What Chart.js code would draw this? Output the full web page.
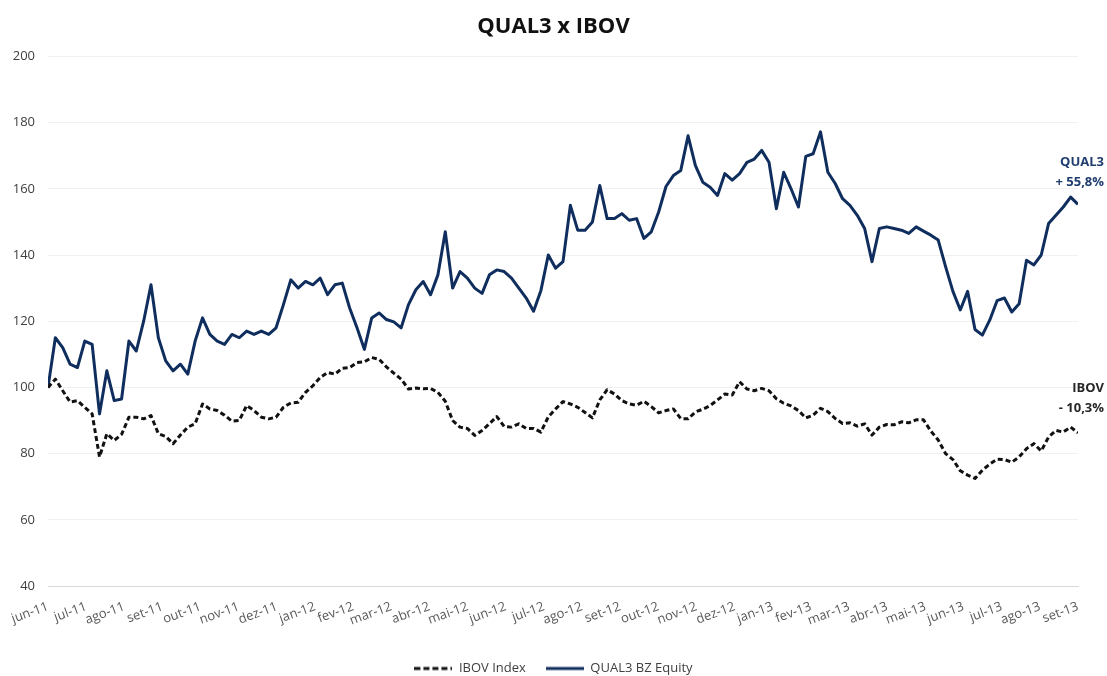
<!DOCTYPE html>
<html lang="pt-BR">
<head>
<meta charset="utf-8">
<title>QUAL3 x IBOV</title>
<script src="https://cdn.jsdelivr.net/npm/chart.js@4.4.1/dist/chart.umd.min.js"></script>
<style>
  html, body { margin: 0; padding: 0; background: #fff; }
</style>
</head>
<body>
<canvas id="chart" width="1107" height="676"></canvas>
<script>
// QUAL3 x IBOV - base 100, jun-11 a set-13

/* ---------- 1. DATA ---------- */
const MONTHS = [
  'jun-11','jul-11','ago-11','set-11','out-11','nov-11','dez-11',
  'jan-12','fev-12','mar-12','abr-12','mai-12','jun-12','jul-12','ago-12','set-12','out-12','nov-12','dez-12',
  'jan-13','fev-13','mar-13','abr-13','mai-13','jun-13','jul-13','ago-13','set-13'
];

const Y_TICKS = [40, 60, 80, 100, 120, 140, 160, 180, 200];

// IBOV Index (base 100)
const IBOV = [
  100, 102.5, 99, 95.6, 96, 94, 92, 79, 86, 84,
  85.8, 91, 91, 90.5, 91.5, 86, 85.2, 83, 85.6, 88,
  89, 95, 93.5, 93, 91.6, 89.8, 90, 94.5, 93, 91,
  90.5, 91, 94, 95.3, 95.5, 98.5, 100.5, 103, 104.5, 104,
  105.8, 106, 107.5, 107.7, 109, 108.5, 106.2, 104.3, 102.5, 99.5,
  99.8, 99.6, 99.7, 98.5, 95.8, 90, 88, 87.6, 85.5, 87,
  89, 91.2, 88.2, 88, 89, 87.6, 87.6, 86.5, 91.1, 93.5,
  95.7, 95, 94, 92.4, 90.8, 96.2, 99.3, 98, 96, 95,
  94.6, 95.8, 94.2, 92.3, 93, 93.5, 90.6, 90.5, 92.6, 93.4,
  94.5, 96.2, 98, 97.7, 101.7, 99.5, 99, 99.7, 99, 96.6,
  95.2, 94.4, 93, 90.8, 91.6, 93.7, 92.7, 90.6, 89.1, 89.3,
  88.3, 89, 85.6, 88, 88.8, 88.7, 89.6, 89.3, 90.2, 90.2,
  86.8, 84.1, 80, 78.2, 74.8, 73.5, 72.5, 75, 76.8, 78.3,
  78.2, 77.4, 79, 81.5, 83, 80.8, 85, 87, 86.5, 88,
  86.3
];

// QUAL3 BZ Equity (base 100)
const QUAL3 = [
  100, 115, 112, 107, 106, 114, 113, 92, 105, 96,
  96.5, 114, 111, 120, 131, 115, 108, 105, 107, 104,
  114, 121, 116, 114, 113, 116, 115, 117, 116, 117,
  116, 118, 125, 132.5, 130, 132, 131, 133, 128, 131,
  131.5, 124, 118, 111.5, 121, 122.5, 120.5, 119.8, 118, 125,
  129.5, 132, 128, 134, 147, 130, 135, 133, 130, 128.4,
  134, 135.5, 135, 133, 130, 127, 123, 129.3, 140, 136,
  138, 155, 147.5, 147.5, 150, 161, 151, 151, 152.5, 150.5,
  151, 145, 147, 153, 160.7, 164, 165.5, 176, 167, 162,
  160.5, 158, 164.6, 162.6, 164.6, 168, 169, 171.6, 168, 154,
  165, 160, 154.5, 169.8, 170.6, 177.2, 165, 161.6, 157, 155,
  152, 148, 138, 148, 148.5, 148, 147.5, 146.5, 148.5, 147.2,
  146, 144.5, 136.5, 129, 123.4, 129, 117.5, 115.8, 120.3, 126.2,
  127, 122.8, 125.3, 138.4, 137, 140, 149.5, 152, 154.5, 157.5,
  155.3
];

(function(window, document){
  'use strict';

  /* ---------- 2. HELPERS ---------- */
  // amostras igualmente espacadas entre jun-11 e set-13 (eixo em meses)
  const step = (MONTHS.length - 1) / (QUAL3.length - 1);
  const toPoints = arr => arr.map((v, i) => ({ x: i * step, y: v }));

  const NAVY = '#0f2e5e';
  const FONT = "'Open Sans', sans-serif";

  Chart.defaults.font.family = FONT;
  Chart.defaults.color = '#404040';

  // Amostra de linha para a legenda (tracejada / solida)
  function lineSample(color, width, dash) {
    const c = document.createElement('canvas');
    c.width = 38; c.height = 6;
    const g = c.getContext('2d');
    g.strokeStyle = color;
    g.lineWidth = width;
    g.setLineDash(dash);
    g.beginPath();
    g.moveTo(0, 3);
    g.lineTo(38, 3);
    g.stroke();
    return c;
  }

  // Rotulos finais (QUAL3 / IBOV) a direita do grafico
  const endLabels = {
    id: 'endLabels',
    afterDatasetsDraw(chart) {
      const ctx = chart.ctx;
      const ys = chart.scales.y;
      const notes = [
        { lines: ['QUAL3', '+ 55,8%'], at: 168, color: '#1f3d6e' },
        { lines: ['IBOV', '- 10,3%'], at: 99.8, color: '#262626' }
      ];
      ctx.save();
      ctx.font = 'bold 13px ' + FONT;
      ctx.textAlign = 'right';
      ctx.textBaseline = 'middle';
      notes.forEach(n => {
        ctx.fillStyle = n.color;
        n.lines.forEach((t, k) => ctx.fillText(t, chart.width - 3, ys.getPixelForValue(n.at) + k * 20));
      });
      ctx.restore();
    }
  };

  /* ---------- 3. CHART ---------- */
  const ctx = document.getElementById('chart').getContext('2d');
  new Chart(ctx, {
    type: 'line',
    data: {
      datasets: [
        {
          label: 'IBOV Index',
          data: toPoints(IBOV),
          borderColor: '#111111',
          backgroundColor: '#111111',
          borderWidth: 3,
          borderDash: [5, 3],
          borderJoinStyle: 'round',
          pointRadius: 0,
          pointStyle: lineSample('#111111', 3, [6, 3]),
          tension: 0
        },
        {
          label: 'QUAL3 BZ Equity',
          data: toPoints(QUAL3),
          borderColor: NAVY,
          backgroundColor: NAVY,
          borderWidth: 3,
          borderJoinStyle: 'round',
          pointRadius: 0,
          pointStyle: lineSample(NAVY, 3, []),
          tension: 0
        }
      ]
    },
    options: {
      responsive: false,
      animation: false,
      layout: { padding: 0 },
      plugins: {
        title: {
          display: true,
          text: 'QUAL3 x IBOV',
          color: '#111',
          font: { size: 22, weight: 'bold' },
          padding: { top: 14, bottom: 16 }
        },
        legend: {
          position: 'bottom',
          maxHeight: 34,
          labels: {
            usePointStyle: true,
            pointStyleWidth: 38,
            padding: 20,
            color: '#404040',
            font: { size: 13 }
          }
        },
        tooltip: { enabled: false }
      },
      scales: {
        x: {
          type: 'linear',
          min: 0,
          max: MONTHS.length - 1,
          afterFit: s => { s.height = 56; },
          grid: { display: false },
          border: { display: true, color: '#d9d9d9' },
          ticks: {
            stepSize: 1,
            autoSkip: false,
            minRotation: 20,
            maxRotation: 20,
            padding: 5,
            color: '#595959',
            font: { size: 13 },
            callback: v => MONTHS[v]
          }
        },
        y: {
          min: Y_TICKS[0],
          max: Y_TICKS[Y_TICKS.length - 1],
          afterFit: s => { s.width = 48; },
          afterBuildTicks: s => { s.ticks = Y_TICKS.map(v => ({ value: v })); },
          border: { display: false },
          grid: {
            drawTicks: false,
            color: c => (c.tick && c.tick.value === Y_TICKS[0]) ? '#d9d9d9' : '#f0f0f0'
          },
          ticks: { padding: 13, color: '#404040', font: { size: 13 } }
        },
        // eixo vazio a direita, so reserva espaco para os rotulos finais
        yRight: {
          position: 'right',
          afterFit: s => { s.width = 29; },
          grid: { display: false, drawOnChartArea: false },
          border: { display: false },
          ticks: { display: false }
        }
      }
    },
    plugins: [endLabels]
  });

})(window, document);
</script>
</body>
</html>
